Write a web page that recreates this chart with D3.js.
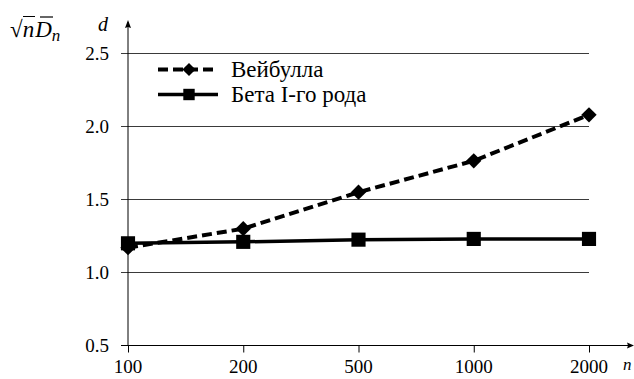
<!DOCTYPE html>
<html lang="ru">
<head>
<meta charset="UTF-8">
<title>Критерий</title>
<script src="https://d3js.org/d3.v7.min.js"></script>
<style>
  * { margin: 0; padding: 0; }
  body { background: #fff; }
</style>
</head>
<body>
<svg width="634" height="379"></svg>
<script>
  // data
  var sizes = ["100", "200", "500", "1000", "2000"];
  var weibull = [1.17, 1.30, 1.55, 1.765, 2.08];
  var beta = [1.20, 1.21, 1.225, 1.23, 1.23];
  var yTicks = [0.5, 1.0, 1.5, 2.0, 2.5];
  var seriesNames = ["Вейбулла", "Бета I-го рода"];

  var serif = "Liberation Serif";
  var svg = d3.select("svg").attr("font-family", serif);

  var x = d3.scalePoint().domain(sizes).range([128, 589]);
  var y = d3.scaleLinear().domain([0.5, 2.5]).range([345.5, 53.5]);

  // gridlines (they also serve as left ticks)
  svg.append("g")
    .selectAll("line")
    .data(yTicks.slice(1))
    .enter()
    .append("line")
    .attr("x1", 121).attr("x2", 589)
    .attr("y1", d => y(d)).attr("y2", d => y(d))
    .attr("stroke", "#3a3a3a")
    .attr("stroke-width", 1);

  // y tick labels
  svg.append("g")
    .selectAll("text")
    .data(yTicks)
    .enter()
    .append("text")
    .attr("x", 109)
    .attr("y", d => y(d) + 6.5)
    .attr("text-anchor", "end")
    .attr("font-size", 19)
    .text(d => d.toFixed(1));

  // x axis with down ticks
  var xAxis = d3.axisBottom(x).tickSize(7).tickFormat("");
  var gx = svg.append("g")
    .attr("transform", "translate(0,345.5)")
    .call(xAxis);
  gx.select(".domain").remove();
  gx.selectAll("line").attr("stroke", "#000");

  svg.append("g")
    .selectAll("text")
    .data(sizes)
    .enter()
    .append("text")
    .attr("x", d => x(d))
    .attr("y", 373)
    .attr("text-anchor", "middle")
    .attr("font-size", 19)
    .text(d => d);

  // axis lines with arrows
  svg.append("line")
    .attr("x1", 121).attr("x2", 632)
    .attr("y1", 345.5).attr("y2", 345.5)
    .attr("stroke", "#000").attr("stroke-width", 1);
  svg.append("path")
    .attr("d", "M634,345.5 L627,342.5 L628,345.5 L627,348.5 Z")
    .attr("fill", "#000");
  svg.append("line")
    .attr("x1", 128).attr("x2", 128)
    .attr("y1", 345.5).attr("y2", 22)
    .attr("stroke", "#000").attr("stroke-width", 1);
  svg.append("path")
    .attr("d", "M128,20 L125,28 L128,27 L131,28 Z")
    .attr("fill", "#000");

  // axis names
  svg.append("text")
    .attr("x", 623).attr("y", 370)
    .attr("font-size", 17)
    .attr("font-style", "italic")
    .text("n");
  svg.append("text")
    .attr("x", 98).attr("y", 31)
    .attr("font-size", 20)
    .attr("font-style", "italic")
    .text("d");

  // formula sqrt(n) D̄n
  var f = svg.append("text").attr("x", 10).attr("y", 37).attr("font-size", 23);
  f.append("tspan").text("√");
  f.append("tspan").attr("font-style", "italic").text("n");
  f.append("tspan").attr("font-style", "italic").attr("dx", 1).text("D");
  f.append("tspan").attr("font-style", "italic").attr("font-size", 17).attr("dy", 4).text("n");
  svg.append("line")
    .attr("x1", 23).attr("x2", 35)
    .attr("y1", 16.5).attr("y2", 16.5)
    .attr("stroke", "#000").attr("stroke-width", 1);
  svg.append("line")
    .attr("x1", 40).attr("x2", 53)
    .attr("y1", 17).attr("y2", 17)
    .attr("stroke", "#000").attr("stroke-width", 1.2);

  var line = d3.line()
    .x((d, i) => x(sizes[i]))
    .y(d => y(d));

  // Beta series (solid, squares)
  svg.append("path")
    .datum(beta)
    .attr("d", line)
    .attr("fill", "none")
    .attr("stroke", "#000")
    .attr("stroke-width", 3.5);
  svg.append("g")
    .selectAll("path")
    .data(beta)
    .enter()
    .append("path")
    .attr("d", d3.symbol().type(d3.symbolSquare).size(200))
    .attr("transform", (d, i) => "translate(" + x(sizes[i]) + "," + y(d) + ")")
    .attr("fill", "#000");

  // Weibull series (dashed, diamonds)
  svg.append("path")
    .datum(weibull)
    .attr("d", line)
    .attr("fill", "none")
    .attr("stroke", "#000")
    .attr("stroke-width", 4)
    .attr("stroke-dasharray", "10,5");
  svg.append("g")
    .selectAll("path")
    .data(weibull)
    .enter()
    .append("path")
    .attr("d", d3.symbol().type(d3.symbolDiamond2).size(150))
    .attr("transform", (d, i) => "translate(" + x(sizes[i]) + "," + y(d) + ")")
    .attr("fill", "#000");

  // legend
  var legend = svg.append("g");
  var ly = [69.5, 94.5];
  legend.append("line")
    .attr("x1", 158).attr("x2", 218).attr("y1", ly[0]).attr("y2", ly[0])
    .attr("stroke", "#000").attr("stroke-width", 4).attr("stroke-dasharray", "10,5");
  legend.append("path")
    .attr("d", d3.symbol().type(d3.symbolDiamond2).size(110))
    .attr("transform", "translate(189," + ly[0] + ")");
  legend.append("line")
    .attr("x1", 158).attr("x2", 218).attr("y1", ly[1]).attr("y2", ly[1])
    .attr("stroke", "#000").attr("stroke-width", 3.5);
  legend.append("path")
    .attr("d", d3.symbol().type(d3.symbolSquare).size(130))
    .attr("transform", "translate(189," + ly[1] + ")");
  legend.selectAll("text")
    .data(seriesNames)
    .enter()
    .append("text")
    .attr("x", 231)
    .attr("y", (d, i) => ly[i] + 7)
    .attr("font-size", 23)
    .text(d => d);
</script>
</body>
</html>
